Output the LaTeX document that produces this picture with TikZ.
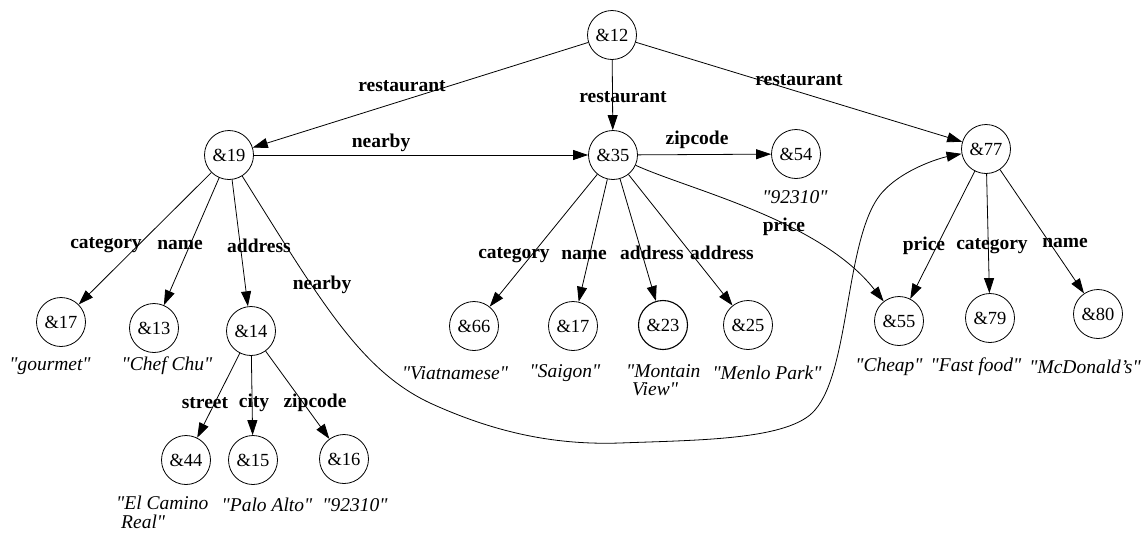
\documentclass[tikz,border=0pt]{standalone}
\usepackage{fontspec}
\setmainfont{Liberation Serif}[Ligatures=TeXOff]
\usetikzlibrary{arrows.meta}
\begin{document}
\begin{tikzpicture}[x=1pt,y=-1pt,
  obj/.style={draw, circle, minimum size=49pt, inner sep=0pt, line width=0.8pt,
              font=\fontsize{18.5}{20}\selectfont},
  lbl/.style={font=\fontsize{19.5}{20}\selectfont\bfseries, inner sep=0pt},
  val/.style={font=\fontsize{19.5}{18.5}\selectfont\itshape, inner sep=0pt},
  arr/.style={-{Triangle[length=15pt,width=10pt]}, line width=0.8pt},
  ]
\useasboundingbox (0,0) rectangle (1144,536);

% objects
\node[obj] (n12) at (612,35) {\&12};
\node[obj] (n19) at (229,155) {\&19};
\node[obj] (n35) at (613,155) {\&35};
\node[obj] (n54) at (796,154) {\&54};
\node[obj] (n77) at (986,149) {\&77};
\node[obj] (n17a) at (61,322) {\&17};
\node[obj] (n13) at (154,328) {\&13};
\node[obj] (n14) at (251,331) {\&14};
\node[obj] (n44) at (186,460) {\&44};
\node[obj] (n15) at (253,460) {\&15};
\node[obj] (n16) at (344,459) {\&16};
\node[obj] (n66) at (474,326) {\&66};
\node[obj] (n17b) at (573,326) {\&17};
\node[obj, line width=1.1pt] (n23) at (663,325) {\&23};
\node[obj] (n25) at (748,325) {\&25};
\node[obj] (n55) at (899,321) {\&55};
\node[obj] (n79) at (990,318) {\&79};
\node[obj] (n80) at (1098,314) {\&80};

% atomic values
\node[val] (v17a) at (50,366) {"gourmet"};
\node[val] (v13) at (167,366) {"Chef Chu"};
\node[val, align=left, anchor=north west] (v44) at (116,496) {"El Camino\\ \hspace*{5pt}Real"};
\node[val] (v15) at (267,505) {"Palo Alto"};
\node[val] (v16) at (355,505) {"92310"};
\node[val] (v66) at (455,373) {"Viatnamese"};
\node[val] (v17b) at (565,373) {"Saigon"};
\node[val, align=left, anchor=north west] (v23) at (626,364) {"Montain\\ \hspace*{6pt}View"};
\node[val] (v25) at (767,373) {"Menlo Park"};
\node[val] (v54) at (795,197) {"92310"};
\node[val] (v55) at (889,367) {"Cheap"};
\node[val] (v79) at (976,367) {"Fast food"};
\node[val] (v80) at (1085,367) {"McDonald’s"};

% edges
\draw[arr] (n12) -- (n19);
\draw[arr] (n12) -- (n35);
\draw[arr] (n12) -- (n77);
\draw[arr] (n19) -- (n35);
\draw[arr] (n35) -- (n54);
\draw[arr] (n19) -- (n17a);
\draw[arr] (n19) -- (n13);
\draw[arr] (n19) -- (n14);
\draw[arr] (n14) -- (n44);
\draw[arr] (n14) -- (n15);
\draw[arr] (n14) -- (n16);
\draw[arr] (n35) -- (n66);
\draw[arr] (n35) -- (n17b);
\draw[arr] (n35) -- (n23);
\draw[arr] (n35) -- (n25);
\draw[arr] (n77) -- (n55);
\draw[arr] (n77) -- (n79);
\draw[arr] (n77) -- (n80);
\draw[arr] (n35) .. controls (690,190) and (820,220) .. (n55);
\draw[arr] (n19) .. controls (320,300) and (360,370) .. (430,403)
  .. controls (500,435) and (560,445) .. (620,443)
  .. controls (700,440) and (790,440) .. (815,410)
  .. controls (850,370) and (845,240) .. (880,195)
  .. controls (900,170) and (940,158) .. (n77);

% edge labels
\node[lbl] (l1) at (402,86) {restaurant};
\node[lbl] (l2) at (623,97) {restaurant};
\node[lbl] (l3) at (799,80) {restaurant};
\node[lbl] (l4) at (381,143) {nearby};
\node[lbl] (l5) at (697,140) {zipcode};
\node[lbl] (l6) at (106,245) {category};
\node[lbl] (l7) at (180,245) {name};
\node[lbl] (l8) at (259,246) {address};
\node[lbl] (l9) at (322,285) {nearby};
\node[lbl] (l10) at (205,403) {street};
\node[lbl] (l11) at (254,403) {city};
\node[lbl] (l12) at (315,403) {zipcode};
\node[lbl] (l13) at (514,255) {category};
\node[lbl] (l14) at (584,255) {name};
\node[lbl] (l15) at (652,253) {address};
\node[lbl] (l16) at (722,253) {address};
\node[lbl] (l17) at (784,227) {price};
\node[lbl] (l18) at (924,246) {price};
\node[lbl] (l19) at (992,246) {category};
\node[lbl] (l20) at (1065,243) {name};
\end{tikzpicture}
\end{document}
